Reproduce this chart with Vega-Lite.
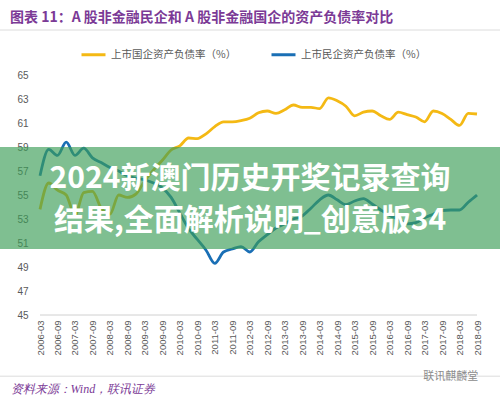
{
  "$schema": "https://vega.github.io/schema/vega-lite/v6.json",
  "width": 500,
  "height": 240,
  "autosize": {"type": "none"},
  "padding": {"left": 0, "right": 0, "top": 75, "bottom": 84},
  "background": "white",
  "config": {
    "view": {"stroke": null},
    "font": "Noto Sans CJK SC",
    "axis": {"labelOverlap": false, "labelSeparation": 0},
    "axisY": {"labelOverlap": false}
  },
  "title": {
    "text": "图表 11：A 股非金融民企和 A 股非金融国企的资产负债率对比",
    "anchor": "start",
    "frame": "group",
    "dx": 10,
    "offset": 5,
    "fontSize": 14,
    "fontWeight": "bold",
    "color": "#7b3a96",
    "font": "Noto Sans CJK SC"
  },
  "data": {
    "values": [
      {"q": "2006-03", "上市国企资产负债率（%）": 53.8, "上市民企资产负债率（%）": 56.6},
      {"q": "2006-06", "上市国企资产负债率（%）": 56.0, "上市民企资产负债率（%）": 58.8},
      {"q": "2006-09", "上市国企资产负债率（%）": 55.4, "上市民企资产负债率（%）": 58.3},
      {"q": "2006-12", "上市国企资产负债率（%）": 55.0, "上市民企资产负债率（%）": 59.4},
      {"q": "2007-03", "上市国企资产负债率（%）": 53.3, "上市民企资产负债率（%）": 58.3},
      {"q": "2007-06", "上市国企资产负债率（%）": 55.2, "上市民企资产负债率（%）": 58.9},
      {"q": "2007-09", "上市国企资产负债率（%）": 55.3, "上市民企资产负债率（%）": 58.1},
      {"q": "2007-12", "上市国企资产负债率（%）": 53.9, "上市民企资产负债率（%）": 57.7},
      {"q": "2008-03", "上市国企资产负债率（%）": 53.4, "上市民企资产负债率（%）": 57.3},
      {"q": "2008-06", "上市国企资产负债率（%）": 55.0, "上市民企资产负债率（%）": 57.0},
      {"q": "2008-09", "上市国企资产负债率（%）": 54.8, "上市民企资产负债率（%）": 56.6},
      {"q": "2008-12", "上市国企资产负债率（%）": 55.1, "上市民企资产负债率（%）": 56.4},
      {"q": "2009-03", "上市国企资产负债率（%）": 56.2, "上市民企资产负债率（%）": 56.25},
      {"q": "2009-06", "上市国企资产负债率（%）": 57.1, "上市民企资产负债率（%）": 56.0},
      {"q": "2009-09", "上市国企资产负债率（%）": 57.9, "上市民企资产负债率（%）": 55.6},
      {"q": "2009-12", "上市国企资产负债率（%）": 58.75, "上市民企资产负债率（%）": 54.8},
      {"q": "2010-03", "上市国企资产负债率（%）": 59.1, "上市民企资产负债率（%）": 53.5},
      {"q": "2010-06", "上市国企资产负债率（%）": 59.75, "上市民企资产负债率（%）": 52.2},
      {"q": "2010-09", "上市国企资产负债率（%）": 59.7, "上市民企资产负债率（%）": 51.3},
      {"q": "2010-12", "上市国企资产负债率（%）": 60.1, "上市民企资产负债率（%）": 50.4},
      {"q": "2011-03", "上市国企资产负债率（%）": 60.7, "上市民企资产负债率（%）": 49.3},
      {"q": "2011-06", "上市国企资产负债率（%）": 61.1, "上市民企资产负债率（%）": 50.25},
      {"q": "2011-09", "上市国企资产负债率（%）": 61.1, "上市民企资产负债率（%）": 50.5},
      {"q": "2011-12", "上市国企资产负债率（%）": 61.2, "上市民企资产负债率（%）": 50.7},
      {"q": "2012-03", "上市国企资产负债率（%）": 61.4, "上市民企资产负债率（%）": 50.25},
      {"q": "2012-06", "上市国企资产负债率（%）": 61.85, "上市民企资产负债率（%）": 51.1},
      {"q": "2012-09", "上市国企资产负债率（%）": 62.0, "上市民企资产负债率（%）": 51.7},
      {"q": "2012-12", "上市国企资产负债率（%）": 61.8, "上市民企资产负债率（%）": 52.25},
      {"q": "2013-03", "上市国企资产负债率（%）": 62.1, "上市民企资产负债率（%）": 52.6},
      {"q": "2013-06", "上市国企资产负债率（%）": 62.5, "上市民企资产负债率（%）": 53.0},
      {"q": "2013-09", "上市国企资产负债率（%）": 62.3, "上市民企资产负债率（%）": 53.25},
      {"q": "2013-12", "上市国企资产负债率（%）": 62.3, "上市民企资产负债率（%）": 53.9},
      {"q": "2014-03", "上市国企资产负债率（%）": 62.2, "上市民企资产负债率（%）": 54.6},
      {"q": "2014-06", "上市国企资产负债率（%）": 63.1, "上市民企资产负债率（%）": 55.0},
      {"q": "2014-09", "上市国企资产负债率（%）": 62.85, "上市民企资产负债率（%）": 54.6},
      {"q": "2014-12", "上市国企资产负债率（%）": 62.4, "上市民企资产负债率（%）": 54.2},
      {"q": "2015-03", "上市国企资产负债率（%）": 61.6, "上市民企资产负债率（%）": 54.5},
      {"q": "2015-06", "上市国企资产负债率（%）": 61.9, "上市民企资产负债率（%）": 54.7},
      {"q": "2015-09", "上市国企资产负债率（%）": 62.0, "上市民企资产负债率（%）": 54.25},
      {"q": "2015-12", "上市国企资产负债率（%）": 61.6, "上市民企资产负债率（%）": 53.75},
      {"q": "2016-03", "上市国企资产负债率（%）": 61.3, "上市民企资产负债率（%）": 53.3},
      {"q": "2016-06", "上市国企资产负债率（%）": 61.9, "上市民企资产负债率（%）": 53.0},
      {"q": "2016-09", "上市国企资产负债率（%）": 61.7, "上市民企资产负债率（%）": 52.6},
      {"q": "2016-12", "上市国企资产负债率（%）": 61.5, "上市民企资产负债率（%）": 52.7},
      {"q": "2017-03", "上市国企资产负债率（%）": 61.1, "上市民企资产负债率（%）": 53.1},
      {"q": "2017-06", "上市国企资产负债率（%）": 62.0, "上市民企资产负债率（%）": 53.4},
      {"q": "2017-09", "上市国企资产负债率（%）": 61.8, "上市民企资产负债率（%）": 53.7},
      {"q": "2017-12", "上市国企资产负债率（%）": 61.3, "上市民企资产负债率（%）": 53.75},
      {"q": "2018-03", "上市国企资产负债率（%）": 60.8, "上市民企资产负债率（%）": 53.75},
      {"q": "2018-06", "上市国企资产负债率（%）": 61.8, "上市民企资产负债率（%）": 54.4},
      {"q": "2018-09", "上市国企资产负债率（%）": 61.75, "上市民企资产负债率（%）": 55.0}
    ]
  },
  "layer": [
    {
      "transform": [
        {"fold": ["上市国企资产负债率（%）", "上市民企资产负债率（%）"], "as": ["series", "v"]}
      ],
      "mark": {"type": "line", "interpolate": "monotone", "strokeWidth": 2.8},
      "encoding": {
        "x": {
          "field": "q",
          "type": "ordinal",
          "sort": null,
          "scale": {"type": "point", "range": [40, 477], "padding": 0},
          "axis": {
            "values": ["2006-03","2006-09","2007-03","2007-09","2008-03","2008-09","2009-03","2009-09","2010-03","2010-09","2011-03","2011-09","2012-03","2012-09","2013-03","2013-09","2014-03","2014-09","2015-03","2015-09","2016-03","2016-09","2017-03","2017-09","2018-03","2018-09"],
            "domain": false,
            "ticks": false,
            "grid": false,
            "labelOverlap": false,
            "labelAngle": -90,
            "labelPadding": 5,
            "labelFontSize": 9.5,
            "labelColor": "#595959",
            "labelFont": "Liberation Sans",
            "title": "资料来源：Wind，联讯证券",
            "titleX": 10,
            "titleY": 73,
            "titleAlign": "left",
            "titleBaseline": "middle",
            "titleAngle": 0,
            "titleFont": "Liberation Serif",
            "titleFontSize": 12,
            "titleFontStyle": "italic",
            "titleFontWeight": "normal",
            "titleColor": "#7b3a96"
          }
        },
        "y": {
          "field": "v",
          "type": "quantitative",
          "scale": {"domain": [45, 65], "nice": false, "zero": false},
          "axis": {
            "values": [45, 47, 49, 51, 53, 55, 57, 59, 61, 63, 65],
            "tickCount": 11,
            "offset": -37,
            "domain": false,
            "ticks": false,
            "grid": false,
            "labelOverlap": false,
            "labelPadding": 9,
            "labelFontSize": 10,
            "labelColor": "#595959",
            "labelFont": "Liberation Sans",
            "title": null
          }
        },
        "color": {
          "field": "series",
          "type": "nominal",
          "scale": {
            "domain": ["上市国企资产负债率（%）", "上市民企资产负债率（%）"],
            "range": ["#f4b914", "#1a6fb5"]
          },
          "legend": {
            "orient": "none",
            "legendX": 80,
            "legendY": -34,
            "direction": "horizontal",
            "title": null,
            "symbolType": "stroke",
            "symbolSize": 576,
            "symbolStrokeWidth": 3,
            "labelFontSize": 10.5,
            "labelColor": "#595959",
            "labelFont": "Noto Sans CJK SC",
            "columnPadding": 28,
            "labelOffset": 4
          }
        }
      }
    },
    {
      "data": {"values": [{}]},
      "mark": {"type": "rule", "color": "#d0d0d0", "strokeWidth": 1},
      "encoding": {
        "x": {"datum": "2006-03", "type": "ordinal"},
        "x2": {"datum": "2018-09"},
        "y": {"datum": 45, "type": "quantitative"}
      }
    },
    {
      "data": {"values": [{}]},
      "mark": {"type": "rule", "color": "#dcdcdc", "strokeWidth": 1},
      "encoding": {"y": {"datum": 68.75, "type": "quantitative"}}
    },
    {
      "data": {"values": [{}]},
      "mark": {"type": "rule", "color": "#dcdcdc", "strokeWidth": 1},
      "encoding": {"y": {"datum": 39.9, "type": "quantitative"}}
    },
    {
      "data": {"values": [{}]},
      "mark": {"type": "text", "color": "#8c8c8c", "fontSize": 11, "font": "Noto Sans CJK SC"},
      "encoding": {
        "x": {"datum": "2017-12", "type": "ordinal"},
        "y": {"datum": 39.85, "type": "quantitative"},
        "text": {"value": "联讯麒麟堂"}
      }
    },
    {
      "data": {"values": [{}]},
      "mark": {"type": "rect", "color": "#3a9d56", "opacity": 0.65},
      "encoding": {
        "y": {"datum": 59, "type": "quantitative"},
        "y2": {"datum": 50.5}
      }
    },
    {
      "data": {"values": [{}]},
      "mark": {"type": "text", "color": "white", "fontSize": 30, "fontWeight": "bold", "font": "Noto Sans CJK SC", "baseline": "middle"},
      "encoding": {
        "y": {"datum": 56.3, "type": "quantitative"},
        "text": {"value": "2024新澳门历史开奖记录查询"}
      }
    },
    {
      "data": {"values": [{}]},
      "mark": {"type": "text", "color": "white", "fontSize": 30, "fontWeight": "bold", "font": "Noto Sans CJK SC", "baseline": "middle"},
      "encoding": {
        "y": {"datum": 52.85, "type": "quantitative"},
        "text": {"value": "结果,全面解析说明_创意版34"}
      }
    }
  ]
}
